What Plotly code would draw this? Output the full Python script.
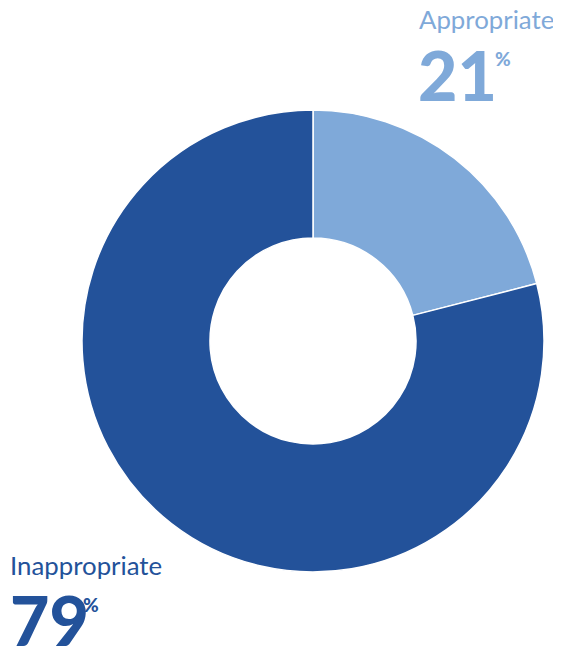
import plotly.graph_objects as go

labels = ["Appropriate", "Inappropriate"]
values = [21, 79]
colors = ["#7FA9D9", "#23529A"]

OFF = 8  # page body margin
W, H = 561 - OFF, 649 - OFF

def px(x):
    return (x - OFF) / W

def py(y):
    return 1 - (y - OFF) / H

fig = go.Figure()
fig.add_trace(go.Pie(
    labels=labels, values=values, hole=0.446, sort=False,
    direction="clockwise", rotation=0,
    marker=dict(colors=colors, line=dict(color="white", width=1.5)),
    textinfo="none", hoverinfo="label+percent", showlegend=False,
    domain=dict(x=[px(82), px(544)], y=[py(572), py(110)]),
))

def ann(text, x, y, size, color, weight=400, xanchor="left"):
    fig.add_annotation(text=text, x=px(x), y=py(y), xref="paper", yref="paper",
                       xanchor=xanchor, yanchor="middle", showarrow=False,
                       font=dict(family="Lato", size=size, color=color, weight=weight))

ann(labels[0], 417, 19, 25.8, colors[0])
ann(f"{values[0]}", 416, 74, 68, colors[0], 900)
ann("%", 493, 58, 19, colors[0], 900)
ann(labels[1], 8, 565, 25.8, colors[1])
ann(f"{values[1]}", 8, 619, 68, colors[1], 900)
ann("%", 81, 604, 19, colors[1], 900)

fig.update_layout(width=W, height=H, margin=dict(l=0, r=0, t=0, b=0),
                  paper_bgcolor="white", plot_bgcolor="white")
fig.write_html("out.html")
